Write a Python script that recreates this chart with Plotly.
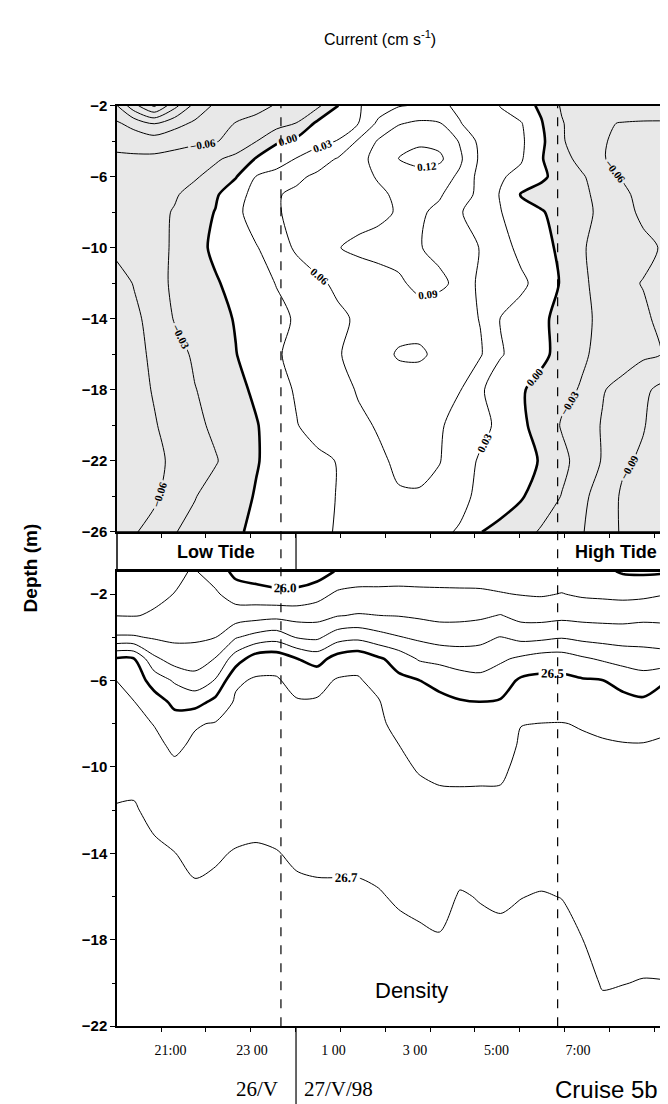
import plotly.graph_objects as go

# ---------------- data ----------------
# time axis: hours relative to midnight 26/27 May 1998
hours = [-4.35, -3.9, -3.4, -2.9, -2.4, -1.9, -1.4, -0.9, -0.4, 0.1, 0.6, 1.1, 1.6, 2.1,
         2.6, 3.1, 3.6, 4.1, 4.6, 5.1, 5.6, 6.1, 6.6, 7.1, 7.6, 8.1, 8.6, 9.2]

# upper panel: current (cm s-1)
depth_cur = [-2, -3, -4, -5, -6, -7, -8, -10, -12, -14, -16, -18, -20, -22, -24, -26]
cur_d02 = [-0.115, -0.17, -0.215, -0.16, -0.11, -0.085, -0.075, -0.068, -0.058, -0.048, -0.037, -0.001, 0.027, 0.045, 0.058, 0.063, 0.064, 0.056, 0.045, 0.029, 0.012, -0.005, -0.033, -0.04, -0.044, -0.046, -0.047, -0.048]
cur_d03 = [-0.085, -0.1, -0.121, -0.1, -0.085, -0.07, -0.059, -0.052, -0.043, -0.029, 0.006, 0.018, 0.029, 0.066, 0.088, 0.095, 0.092, 0.061, 0.05, 0.038, 0.032, 0.002, -0.028, -0.045, -0.058, -0.061, -0.062, -0.062]
cur_d04 = [-0.068, -0.072, -0.075, -0.07, -0.066, -0.062, -0.05, -0.031, -0.002, 0.008, 0.02, 0.031, 0.063, 0.093, 0.108, 0.115, 0.111, 0.088, 0.052, 0.04, 0.035, 0.006, -0.027, -0.045, -0.059, -0.063, -0.064, -0.064]
cur_d05 = [-0.055, -0.055, -0.054, -0.05, -0.042, -0.034, -0.022, 0.002, 0.01, 0.032, 0.047, 0.062, 0.08, 0.1, 0.121, 0.13, 0.126, 0.095, 0.055, 0.042, 0.033, 0.002, -0.02, -0.039, -0.059, -0.065, -0.068, -0.068]
cur_d06 = [-0.05, -0.05, -0.047, -0.04, -0.033, -0.02, -0.002, 0.031, 0.045, 0.055, 0.065, 0.073, 0.082, 0.092, 0.1, 0.108, 0.103, 0.085, 0.05, 0.033, 0.022, 0.005, -0.011, -0.027, -0.045, -0.062, -0.07, -0.072]
cur_d07 = [-0.048, -0.045, -0.04, -0.033, -0.02, -0.004, 0.018, 0.04, 0.058, 0.065, 0.071, 0.076, 0.082, 0.086, 0.094, 0.098, 0.093, 0.075, 0.052, 0.028, -0.002, -0.01, -0.017, -0.026, -0.036, -0.055, -0.068, -0.072]
cur_d08 = [-0.052, -0.045, -0.038, -0.028, -0.012, 0.001, 0.022, 0.045, 0.058, 0.066, 0.072, 0.077, 0.081, 0.085, 0.092, 0.094, 0.084, 0.062, 0.048, 0.031, 0.014, 0.002, -0.009, -0.024, -0.035, -0.052, -0.065, -0.07]
cur_d10 = [-0.055, -0.046, -0.038, -0.027, -0.01, 0.006, 0.018, 0.028, 0.045, 0.065, 0.078, 0.089, 0.095, 0.098, 0.097, 0.091, 0.085, 0.073, 0.059, 0.042, 0.022, 0.008, -0.005, -0.028, -0.038, -0.045, -0.054, -0.064]
cur_d12 = [-0.07, -0.059, -0.041, -0.025, -0.013, -0.003, 0.009, 0.019, 0.031, 0.042, 0.054, 0.066, 0.075, 0.08, 0.087, 0.095, 0.094, 0.085, 0.052, 0.047, 0.036, 0.019, -0.003, -0.026, -0.038, -0.055, -0.061, -0.065]
cur_d14 = [-0.075, -0.065, -0.052, -0.028, -0.02, -0.01, 0.002, 0.012, 0.023, 0.033, 0.043, 0.054, 0.064, 0.072, 0.078, 0.08, 0.077, 0.07, 0.059, 0.029, 0.018, 0.005, -0.008, -0.025, -0.035, -0.045, -0.056, -0.068]
cur_d16 = [-0.078, -0.068, -0.055, -0.042, -0.025, -0.01, -0.001, 0.015, 0.027, 0.038, 0.049, 0.058, 0.068, 0.08, 0.093, 0.094, 0.084, 0.075, 0.063, 0.032, 0.02, 0.007, -0.01, -0.027, -0.036, -0.046, -0.055, -0.062]
cur_d18 = [-0.08, -0.07, -0.058, -0.047, -0.031, -0.02, -0.008, 0.005, 0.02, 0.033, 0.042, 0.05, 0.062, 0.07, 0.075, 0.075, 0.07, 0.061, 0.034, 0.015, 0.003, -0.01, -0.024, -0.032, -0.058, -0.07, -0.085, -0.1]
cur_d20 = [-0.085, -0.075, -0.062, -0.05, -0.036, -0.025, -0.013, -0.002, 0.014, 0.029, 0.04, 0.048, 0.055, 0.062, 0.067, 0.067, 0.063, 0.05, 0.04, 0.022, 0.006, -0.012, -0.032, -0.045, -0.062, -0.076, -0.088, -0.11]
cur_d22 = [-0.088, -0.078, -0.066, -0.055, -0.042, -0.032, -0.018, -0.002, 0.01, 0.018, 0.024, 0.031, 0.041, 0.056, 0.064, 0.066, 0.061, 0.046, 0.026, 0.018, 0.009, -0.002, -0.023, -0.041, -0.062, -0.085, -0.095, -0.11]
cur_d24 = [-0.085, -0.075, -0.064, -0.048, -0.031, -0.02, -0.01, 0.002, 0.01, 0.016, 0.022, 0.031, 0.038, 0.05, 0.058, 0.058, 0.052, 0.036, 0.025, 0.017, 0.003, -0.015, -0.031, -0.055, -0.07, -0.095, -0.108, -0.115]
cur_d26 = [-0.07, -0.062, -0.052, -0.031, -0.023, -0.014, -0.004, 0.006, 0.013, 0.018, 0.024, 0.032, 0.038, 0.042, 0.044, 0.041, 0.034, 0.028, 0.001, -0.01, -0.02, -0.033, -0.043, -0.058, -0.078, -0.093, -0.1, -0.105]
current = [cur_d02, cur_d03, cur_d04, cur_d05, cur_d06, cur_d07, cur_d08, cur_d10,
           cur_d12, cur_d14, cur_d16, cur_d18, cur_d20, cur_d22, cur_d24, cur_d26]

# lower panel: density (sigma-t)
depth_den = [-0.95, -2, -3, -4, -5, -6, -7, -8, -9, -10, -11, -12, -14, -16, -18, -20, -22]
den_d01 = [26.05, 26.06, 26.07, 26.09, 26.105, 26.06, 25.97, 25.95, 25.94, 25.94, 25.95, 26.01, 26.03, 26.03, 26.04, 26.04, 26.05, 26.05, 26.05, 26.05, 26.05, 26.05, 26.05, 26.03, 26.02, 25.99, 25.985, 25.99]
den_d02 = [26.074, 26.079, 26.086, 26.101, 26.132, 26.113, 26.056, 26.039, 26.023, 26.025, 26.062, 26.118, 26.132, 26.133, 26.132, 26.127, 26.12, 26.118, 26.116, 26.105, 26.096, 26.091, 26.103, 26.087, 26.081, 26.074, 26.079, 26.099]
den_d03 = [26.099, 26.097, 26.107, 26.14, 26.159, 26.156, 26.148, 26.161, 26.171, 26.162, 26.165, 26.196, 26.207, 26.201, 26.197, 26.186, 26.175, 26.176, 26.184, 26.205, 26.169, 26.165, 26.174, 26.168, 26.165, 26.165, 26.174, 26.173]
den_d04 = [26.211, 26.21, 26.189, 26.18, 26.186, 26.198, 26.292, 26.336, 26.36, 26.293, 26.281, 26.358, 26.375, 26.338, 26.306, 26.281, 26.26, 26.259, 26.271, 26.304, 26.272, 26.276, 26.293, 26.274, 26.264, 26.256, 26.259, 26.247]
den_d05 = [26.51, 26.505, 26.321, 26.255, 26.244, 26.305, 26.45, 26.555, 26.563, 26.503, 26.46, 26.543, 26.571, 26.516, 26.46, 26.39, 26.37, 26.354, 26.352, 26.385, 26.418, 26.446, 26.447, 26.415, 26.388, 26.365, 26.35, 26.34]
den_d06 = [26.603, 26.556, 26.461, 26.387, 26.344, 26.406, 26.587, 26.61, 26.609, 26.57, 26.572, 26.608, 26.608, 26.574, 26.522, 26.501, 26.48, 26.442, 26.427, 26.455, 26.515, 26.526, 26.525, 26.51, 26.502, 26.467, 26.442, 26.502]
den_d07 = [26.621, 26.603, 26.541, 26.48, 26.46, 26.529, 26.612, 26.622, 26.621, 26.607, 26.608, 26.619, 26.619, 26.606, 26.549, 26.524, 26.518, 26.508, 26.501, 26.508, 26.558, 26.565, 26.566, 26.554, 26.546, 26.53, 26.518, 26.548]
den_d08 = [26.638, 26.625, 26.597, 26.536, 26.593, 26.606, 26.625, 26.634, 26.632, 26.619, 26.619, 26.629, 26.629, 26.617, 26.574, 26.546, 26.539, 26.53, 26.525, 26.532, 26.598, 26.601, 26.602, 26.596, 26.588, 26.576, 26.57, 26.592]
den_d09 = [26.657, 26.648, 26.621, 26.584, 26.614, 26.621, 26.639, 26.647, 26.644, 26.631, 26.631, 26.639, 26.639, 26.628, 26.601, 26.57, 26.56, 26.554, 26.551, 26.556, 26.612, 26.614, 26.614, 26.609, 26.606, 26.604, 26.604, 26.607]
den_d10 = [26.675, 26.672, 26.644, 26.615, 26.629, 26.636, 26.652, 26.66, 26.656, 26.644, 26.643, 26.649, 26.649, 26.639, 26.614, 26.594, 26.582, 26.578, 26.577, 26.581, 26.624, 26.627, 26.626, 26.619, 26.615, 26.613, 26.613, 26.616]
den_d11 = [26.693, 26.695, 26.666, 26.637, 26.644, 26.651, 26.666, 26.672, 26.668, 26.656, 26.655, 26.66, 26.66, 26.65, 26.628, 26.611, 26.603, 26.602, 26.603, 26.604, 26.637, 26.64, 26.639, 26.629, 26.624, 26.621, 26.622, 26.624]
den_d12 = [26.703, 26.704, 26.689, 26.659, 26.659, 26.666, 26.679, 26.685, 26.68, 26.669, 26.667, 26.67, 26.67, 26.661, 26.641, 26.626, 26.618, 26.625, 26.622, 26.622, 26.649, 26.653, 26.651, 26.64, 26.632, 26.63, 26.631, 26.633]
den_d14 = [26.712, 26.713, 26.708, 26.701, 26.689, 26.695, 26.703, 26.705, 26.702, 26.693, 26.69, 26.691, 26.691, 26.684, 26.668, 26.656, 26.648, 26.672, 26.659, 26.657, 26.674, 26.679, 26.675, 26.66, 26.647, 26.647, 26.649, 26.651]
den_d16 = [26.722, 26.722, 26.718, 26.713, 26.708, 26.711, 26.714, 26.716, 26.714, 26.71, 26.708, 26.707, 26.707, 26.704, 26.694, 26.686, 26.677, 26.705, 26.697, 26.691, 26.699, 26.703, 26.699, 26.68, 26.663, 26.664, 26.666, 26.668]
den_d18 = [26.731, 26.731, 26.729, 26.725, 26.722, 26.724, 26.726, 26.727, 26.726, 26.723, 26.722, 26.722, 26.722, 26.719, 26.714, 26.71, 26.705, 26.72, 26.716, 26.714, 26.716, 26.719, 26.716, 26.701, 26.679, 26.681, 26.684, 26.685]
den_d20 = [26.741, 26.741, 26.739, 26.738, 26.736, 26.737, 26.738, 26.739, 26.738, 26.737, 26.736, 26.736, 26.736, 26.735, 26.732, 26.73, 26.728, 26.735, 26.733, 26.732, 26.733, 26.734, 26.733, 26.72, 26.696, 26.699, 26.702, 26.701]
den_d22 = [26.75, 26.75, 26.75, 26.75, 26.75, 26.75, 26.75, 26.75, 26.75, 26.75, 26.75, 26.75, 26.75, 26.75, 26.75, 26.75, 26.75, 26.75, 26.75, 26.75, 26.75, 26.75, 26.75, 26.74, 26.72, 26.72, 26.72, 26.72]
density = [den_d01, den_d02, den_d03, den_d04, den_d05, den_d06, den_d07, den_d08, den_d09,
           den_d10, den_d11, den_d12, den_d14, den_d16, den_d18, den_d20, den_d22]

# tides and date change (hours)
tide_times = [-0.29, 6.50]
date_change = 0.08
xtick_pos = [-3, -1, 1, 3, 5, 7]
xtick_text = ["21:00", "23 00", "1 00", "3 00", "5:00", "7:00"]
ytick_top = [-2, -6, -10, -14, -18, -22, -26]
ytick_bot = [-2, -6, -10, -14, -18, -22]

for row in current:
    assert len(row) == len(hours)
for row in density:
    assert len(row) == len(hours)

# ---------------- figure ----------------
SANS = "Liberation Sans"
SERIF = "Liberation Serif"
lab_font = dict(family=SERIF, size=11, color="black", weight="bold")

fig = go.Figure()

# stippled (negative) area: constraint fill shades the region outside "z > 0"
fig.add_trace(go.Contour(
    x=hours, y=depth_cur, z=current, xaxis="x", yaxis="y",
    contours=dict(type="constraint", operation=">", value=0),
    fillcolor="#e8e8e8", line=dict(width=0, smoothing=0.8),
    showscale=False, hoverinfo="skip"))
# negative isolines
fig.add_trace(go.Contour(
    x=hours, y=depth_cur, z=current, xaxis="x", yaxis="y",
    autocontour=False,
    contours=dict(coloring="none", start=-0.21, end=-0.025, size=0.03,
                  showlabels=True, labelfont=lab_font, labelformat=".2f"),
    line=dict(color="black", width=1, smoothing=0.8),
    showscale=False, hoverinfo="skip"))
# positive isolines
fig.add_trace(go.Contour(
    x=hours, y=depth_cur, z=current, xaxis="x", yaxis="y",
    autocontour=False,
    contours=dict(coloring="none", start=0.03, end=0.125, size=0.03,
                  showlabels=True, labelfont=lab_font, labelformat=".2f"),
    line=dict(color="black", width=1, smoothing=0.8),
    showscale=False, hoverinfo="skip"))
# zero isoline (thick)
fig.add_trace(go.Contour(
    x=hours, y=depth_cur, z=current, xaxis="x", yaxis="y",
    autocontour=False,
    contours=dict(coloring="none", start=0, end=0.001, size=0.03,
                  showlabels=True, labelfont=lab_font, labelformat=".2f"),
    line=dict(color="black", width=2.6, smoothing=0.8),
    showscale=False, hoverinfo="skip"))

# density thin isolines
fig.add_trace(go.Contour(
    x=hours, y=depth_den, z=density, xaxis="x2", yaxis="y2",
    autocontour=False,
    contours=dict(coloring="none", start=26.1, end=26.45, size=0.1),
    line=dict(color="black", width=1, smoothing=0.8),
    showscale=False, hoverinfo="skip"))
fig.add_trace(go.Contour(
    x=hours, y=depth_den, z=density, xaxis="x2", yaxis="y2",
    autocontour=False,
    contours=dict(coloring="none", start=26.6, end=26.65, size=0.1),
    line=dict(color="black", width=1, smoothing=0.8),
    showscale=False, hoverinfo="skip"))
fig.add_trace(go.Contour(
    x=hours, y=depth_den, z=density, xaxis="x2", yaxis="y2",
    autocontour=False,
    contours=dict(coloring="none", start=26.7, end=26.74, size=0.1,
                  showlabels=True, labelfont=dict(family=SERIF, size=13, color="black", weight="bold"),
                  labelformat=".1f"),
    line=dict(color="black", width=1, smoothing=0.8),
    showscale=False, hoverinfo="skip"))
# density thick isolines (26.0 and 26.5)
fig.add_trace(go.Contour(
    x=hours, y=depth_den, z=density, xaxis="x2", yaxis="y2",
    autocontour=False,
    contours=dict(coloring="none", start=26.0, end=26.55, size=0.5,
                  showlabels=True, labelfont=dict(family=SERIF, size=13, color="black", weight="bold"),
                  labelformat=".1f"),
    line=dict(color="black", width=2.6, smoothing=0.8),
    showscale=False, hoverinfo="skip"))

X0, X1 = 109 / 668, 659.5 / 668
TOP = [1 - 523 / 1104, 1 - 90 / 1104]
BOT = [1 - 1025 / 1104, 1 - 563 / 1104]
XR = [-4.313, 9.196]

common_x = dict(domain=[X0, X1], range=XR, showline=True, mirror=True, linecolor="black",
                linewidth=1.5, showgrid=False, zeroline=False,
                minor=dict(ticks="outside", tick0=-3.23, dtick=1.1, ticklen=4,
                           tickcolor="black", tickwidth=1, showgrid=False))
common_y = dict(showline=True, mirror=True, linecolor="black", linewidth=1.5,
                showgrid=False, zeroline=False, ticks="outside", ticklen=5,
                tickcolor="black", tickwidth=1,
                tickfont=dict(family=SANS, size=15, color="black", weight="bold"),
                minor=dict(ticks="outside", tick0=-2, dtick=2, ticklen=3,
                           tickcolor="black", showgrid=False))

fig.update_layout(
    width=668, height=1104, margin=dict(l=0, r=0, t=0, b=0),
    paper_bgcolor="white", plot_bgcolor="white", showlegend=False,
    xaxis=dict(anchor="y", showticklabels=False, ticks="", **common_x),
    yaxis=dict(anchor="x", domain=TOP, range=[-26, -2], tickmode="array",
               tickvals=ytick_top, **common_y),
    xaxis2=dict(anchor="y2", tickmode="array", tickvals=xtick_pos, ticktext=xtick_text,
                ticks="", ticklabelstandoff=10,
                tickfont=dict(family=SERIF, size=14, color="black"), **common_x),
    yaxis2=dict(anchor="x2", domain=BOT, range=[-22, -0.95], tickmode="array",
                tickvals=ytick_bot, **common_y),
)

shapes = []
# tide band frame
shapes.append(dict(type="rect", xref="paper", yref="paper", x0=X0, x1=X1,
                   y0=BOT[1], y1=TOP[0], line=dict(color="black", width=1.5)))
# date-change divider inside band and under axis
shapes.append(dict(type="line", xref="x", yref="paper", x0=date_change, x1=date_change,
                   y0=BOT[1], y1=TOP[0], line=dict(color="black", width=1.2)))
shapes.append(dict(type="line", xref="x2", yref="paper", x0=date_change, x1=date_change,
                   y0=0.0, y1=BOT[0], line=dict(color="black", width=1.2)))
# tide dashed lines
for t in tide_times:
    shapes.append(dict(type="line", xref="x", yref="paper", x0=t, x1=t,
                       y0=BOT[0], y1=TOP[1], line=dict(color="black", width=1.2, dash="dash")))
fig.update_layout(shapes=shapes)

ann = [
    dict(text="Current (cm s<sup>-1</sup>)", x=372 / 668, y=1 - 21 / 1104,
         font=dict(family=SANS, size=16, color="black")),
    dict(text="<b>Depth (m)</b>", x=22 / 668, y=1 - 560 / 1104, textangle=-90,
         font=dict(family=SANS, size=19, color="black")),
    dict(text="<b>Low Tide</b>", x=208 / 668, y=1 - 543 / 1104,
         font=dict(family=SANS, size=18, color="black")),
    dict(text="<b>High Tide</b>", x=608 / 668, y=1 - 543 / 1104,
         font=dict(family=SANS, size=18, color="black")),
    dict(text="Density", x=403 / 668, y=1 - 989 / 1104,
         font=dict(family=SANS, size=22, color="black")),
    dict(text="Cruise 5b", x=598 / 668, y=1 - 1089 / 1104,
         font=dict(family=SANS, size=24, color="black")),
    dict(text="26/V", x=272 / 668, y=1 - 1089 / 1104, xanchor="right",
         font=dict(family=SERIF, size=21, color="black")),
    dict(text="27/V/98", x=294 / 668, y=1 - 1089 / 1104, xanchor="left",
         font=dict(family=SERIF, size=21, color="black")),
]
for a in ann:
    a.setdefault("xanchor", "center")
    a.update(xref="paper", yref="paper", yanchor="middle", showarrow=False)
fig.update_layout(annotations=ann)

fig.write_html("out.html")
